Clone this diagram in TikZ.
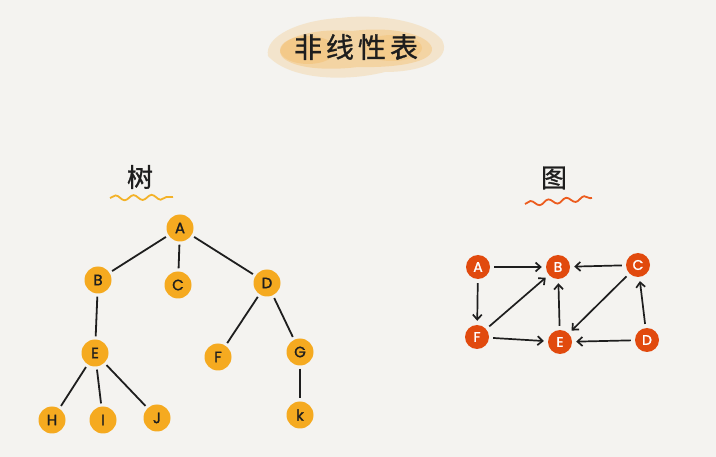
\documentclass[tikz,border=0pt]{standalone}
\usepackage{fontspec}
\setmainfont{Poppins}
\newfontfamily\cjk{Noto Sans CJK SC}[FakeBold=1]
\newfontfamily\lettersfont{Poppins}[FakeBold=1.5]
\usetikzlibrary{arrows.meta,decorations.pathmorphing}
\definecolor{bg}{RGB}{244,243,240}
\definecolor{treefill}{RGB}{245,170,32}
\definecolor{graphfill}{RGB}{225,74,14}
\definecolor{inkc}{RGB}{30,30,30}
\definecolor{wash}{RGB}{243,172,60}
\definecolor{wavey}{RGB}{243,178,40}
\definecolor{waver}{RGB}{236,92,30}
\tikzset{
  treenode/.style={circle, fill=treefill, minimum size=27pt, inner sep=0pt, font=\lettersfont\fontsize{15}{15}\selectfont, text=inkc},
  graphnode/.style={circle, fill=graphfill, minimum size=24pt, inner sep=0pt, font=\lettersfont\fontsize{14}{14}\selectfont, text=white},
  treeedge/.style={draw=inkc, line width=1.8pt, shorten <=3pt, shorten >=3pt},
  graphedge/.style={draw=inkc, line width=1.7pt, shorten <=4pt, shorten >=4pt, -{Straight Barb[length=5pt,width=9pt]}},
  heading/.style={font=\cjk\fontsize{28}{28}\selectfont, text=inkc},
  wavy/.style={line width=1.8pt, decorate, decoration={snake, amplitude=2.5pt, segment length=18pt}}
}
\begin{document}
\begin{tikzpicture}[x=1pt,y=-1pt]
\fill[bg] (0,0) rectangle (716,457);
\useasboundingbox (0,0) rectangle (716,457);
% watercolor wash behind the title
\begin{scope}[fill=wash]
\fill[opacity=0.2] (268,56) .. controls (264,36) and (300,20) .. (340,18) .. controls (380,13) and (428,22) .. (442,40) .. controls (452,58) and (425,72) .. (385,72) .. controls (345,82) and (290,80) .. (268,56) -- cycle;
\fill[opacity=0.28] (280,52) .. controls (280,36) and (318,28) .. (352,31) .. controls (392,26) and (428,34) .. (432,48) .. controls (434,62) and (398,68) .. (358,67) .. controls (318,72) and (282,66) .. (280,52) -- cycle;
\fill[opacity=0.25] (308,50) ellipse [x radius=28pt, y radius=14pt];
\fill[opacity=0.22] (392,48) ellipse [x radius=30pt, y radius=13pt];
\end{scope}
\node[heading] (title) at (356,47) {非\hspace{4pt}线\hspace{4pt}性\hspace{4pt}表};

% tree
\node[heading, font=\cjk\fontsize{26}{26}\selectfont] (treetitle) at (140,177) {树};
\coordinate (tw1) at (110,198);
\coordinate (tw2) at (173,197);
\draw[wavey, wavy] (tw1) -- (tw2);

\node[treenode] (tA) at (180,228) {A};
\node[treenode] (tB) at (98,280) {B};
\node[treenode] (tC) at (178,285) {C};
\node[treenode] (tD) at (267,283) {D};
\node[treenode] (tE) at (95,353) {E};
\node[treenode] (tF) at (218,357) {F};
\node[treenode] (tG) at (300,352) {G};
\node[treenode] (tH) at (52,420) {H};
\node[treenode] (tI) at (103,420) {I};
\node[treenode] (tJ) at (157,418) {J};
\node[treenode] (tK) at (300,415) {k};
\draw[treeedge] (tA) -- (tB);
\draw[treeedge] (tA) -- (tC);
\draw[treeedge] (tA) -- (tD);
\draw[treeedge] (tB) -- (tE);
\draw[treeedge] (tD) -- (tF);
\draw[treeedge] (tD) -- (tG);
\draw[treeedge] (tE) -- (tH);
\draw[treeedge] (tE) -- (tI);
\draw[treeedge] (tE) -- (tJ);
\draw[treeedge] (tG) -- (tK);

% graph
\node[heading, font=\cjk\fontsize{26}{26}\selectfont] (graphtitle) at (554,178) {图};
\coordinate (gw1) at (525,204);
\coordinate (gw2) at (592,198);
\draw[waver, wavy] (gw1) -- (gw2);

\node[graphnode] (gA) at (478,267) {A};
\node[graphnode] (gB) at (558,267) {B};
\node[graphnode] (gC) at (638,265) {C};
\node[graphnode] (gF) at (477,337) {F};
\node[graphnode] (gE) at (560,342) {E};
\node[graphnode] (gD) at (647,340) {D};
\draw[graphedge] (gA) -- (gB);
\draw[graphedge] (gC) -- (gB);
\draw[graphedge] (gA) -- (gF);
\draw[graphedge] (gF) -- (gB);
\draw[graphedge] (gF) -- (gE);
\draw[graphedge] (gE) -- (gB);
\draw[graphedge] (gC) -- (gE);
\draw[graphedge] (gD) -- (gE);
\draw[graphedge] (gD) -- (gC);
\end{tikzpicture}
\end{document}
